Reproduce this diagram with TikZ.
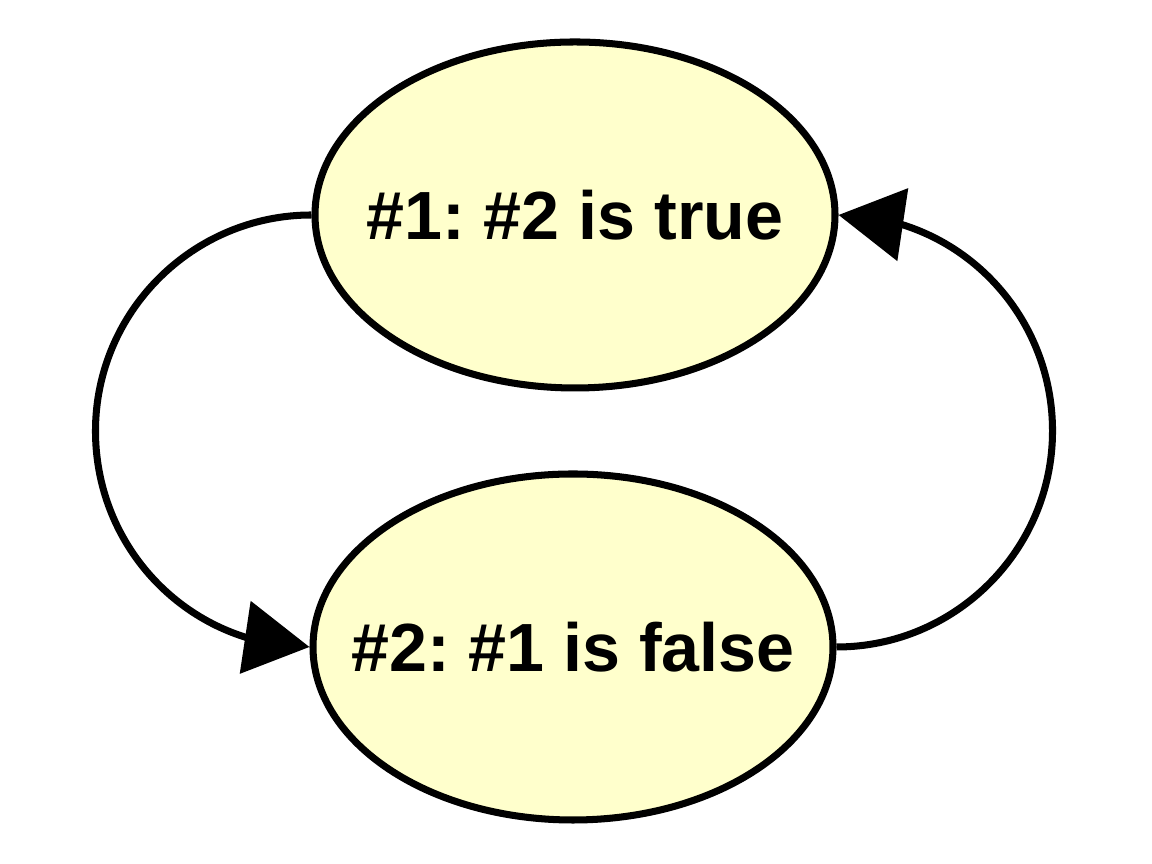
\documentclass[tikz,border=0pt]{standalone}
\usepackage{fontspec}
\setmainfont{Liberation Sans}
\usepackage{xcolor}
\usepackage{tikz}
\usetikzlibrary{shapes.geometric,arrows.meta,bending,positioning}
\definecolor{statefill}{RGB}{255,255,204}
\frenchspacing

\begin{document}
\begin{tikzpicture}[
            every node/.style={font=\fontsize{19.4}{22}\selectfont\bfseries},
            state/.style={draw, ellipse, line width=2pt, fill=statefill, minimum width=5.2cm, minimum height=3.46cm, inner xsep=-0.4cm, inner ysep=0pt},
            link/.style={line width=2pt, -{Triangle[length=0.65cm, width=0.72cm]}},
        ]
            \useasboundingbox (0,0) rectangle (11.52,8.64);

            \node[state] (first) at (5.75,6.49) {\#1: \#2 is true};
            \node[state] (second) at (5.73,2.17) {\#2: \#1 is false};

            % half circles round the left and the right side
            \draw[link] (first.west) .. controls +(-1.19,0) and +(0,1.19) .. ++(-2.16,-2.16)
                .. controls +(0,-1.19) and +(-1.19,0) .. (second.west);
            \draw[link] (second.east) .. controls +(1.19,0) and +(0,-1.19) .. ++(2.16,2.16)
                .. controls +(0,1.19) and +(1.19,0) .. (first.east);
        \end{tikzpicture}
\end{document}
